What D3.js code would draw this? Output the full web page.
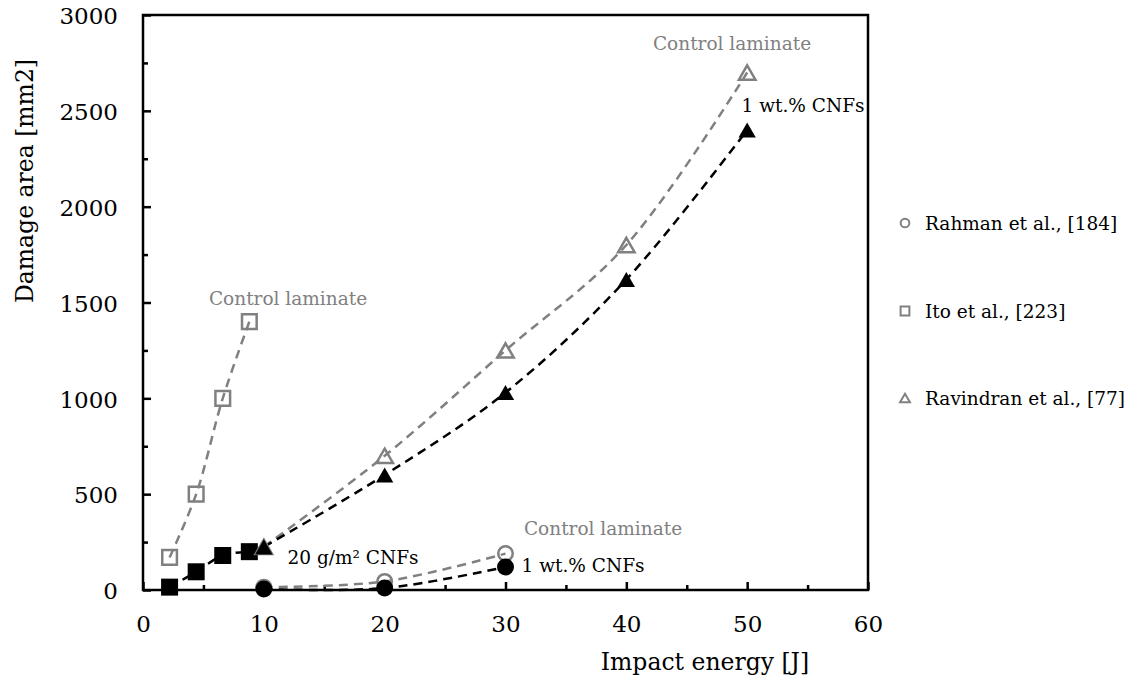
<!DOCTYPE html>
<html>
<head>
<meta charset="utf-8">
<script src="https://cdn.jsdelivr.net/npm/d3@7"></script>
<style>
  html, body { margin: 0; padding: 0; background: #fff; }
  svg text { font-family: "DejaVu Serif", Georgia, serif; }
</style>
</head>
<body>
<svg id="chart" width="1127" height="680"></svg>
<script>
// Impact energy [J] and damage area [mm2] for each study
const rahmanEnergy = [10, 20, 30];
const rahmanControl = [15, 45, 190];
const rahmanCNF = [5, 10, 120];

const itoEnergy = [2.2, 4.4, 6.6, 8.8];
const itoControl = [170, 500, 1000, 1400];
const itoCNF = [15, 95, 180, 200];

const ravindranEnergy = [10, 20, 30, 40, 50];
const ravindranControl = [225, 700, 1250, 1800, 2700];
const ravindranCNF = [225, 600, 1030, 1620, 2400];

const xTicks = [0, 10, 20, 30, 40, 50, 60];
const yTicks = [0, 500, 1000, 1500, 2000, 2500, 3000];
const legendLabels = ["Rahman et al., [184]", "Ito et al., [223]", "Ravindran et al., [77]"];

const svg = d3.select("#chart");
const plotLeft = 143, plotRight = 868, plotTop = 15, plotBottom = 590;

const x = d3.scaleLinear().domain([0, 60]).range([plotLeft, plotRight]);
const y = d3.scaleLinear().domain([0, 3000]).range([plotBottom, plotTop]);

const GREY = "#808080";
const BLACK = "#000";

// frame
svg.append("rect")
  .attr("x", plotLeft).attr("y", plotTop)
  .attr("width", plotRight - plotLeft).attr("height", plotBottom - plotTop)
  .attr("fill", "none").attr("stroke", "#000").attr("stroke-width", 2.5);

// inward ticks: major with labels, minor between
const xAxis = d3.axisBottom(x).tickValues(xTicks).tickSize(-8).tickPadding(26).tickFormat(d3.format("d"));
const xMinor = d3.axisBottom(x).tickValues(d3.range(5, 60, 10)).tickSize(-5).tickFormat("");
const yAxis = d3.axisLeft(y).tickValues(yTicks).tickSize(-8).tickPadding(25).tickFormat(d3.format("d"));
const yMinor = d3.axisLeft(y).tickValues(d3.range(250, 3000, 500)).tickSize(-5).tickFormat("");

function styleAxis(g) {
  g.select(".domain").remove();
  g.selectAll(".tick line").attr("stroke", "#000").attr("stroke-width", 2.5);
  g.selectAll(".tick text").attr("font-size", 23).attr("fill", "#000")
    .attr("font-family", "\"DejaVu Serif\", Georgia, serif");
}
svg.append("g").attr("transform", `translate(0,${plotBottom})`).call(xAxis).call(styleAxis);
svg.append("g").attr("transform", `translate(0,${plotBottom})`).call(xMinor).call(styleAxis);
svg.append("g").attr("transform", `translate(${plotLeft},0)`).call(yAxis).call(styleAxis)
  .selectAll(".tick text").attr("dy", "0.38em");
svg.append("g").attr("transform", `translate(${plotLeft},0)`).call(yMinor).call(styleAxis);

// axis titles
svg.append("text")
  .attr("x", 705).attr("y", 670)
  .attr("text-anchor", "middle").attr("font-size", 23.5)
  .text("Impact energy [J]");
svg.append("text")
  .attr("transform", "translate(33,181) rotate(-90)")
  .attr("text-anchor", "middle").attr("font-size", 23.5)
  .text("Damage area [mm2]");

const line = d3.line()
  .x(d => x(d[0])).y(d => y(d[1]))
  .curve(d3.curveCatmullRom.alpha(0.5));

function zip(a, b) { return a.map((v, i) => [v, b[i]]); }

const series = [
  { energy: rahmanEnergy, values: rahmanControl, color: GREY, shape: "circle", open: true },
  { energy: rahmanEnergy, values: rahmanCNF, color: BLACK, shape: "circle", open: false },
  { energy: itoEnergy, values: itoControl, color: GREY, shape: "square", open: true },
  { energy: itoEnergy, values: itoCNF, color: BLACK, shape: "square", open: false },
  { energy: ravindranEnergy, values: ravindranControl, color: GREY, shape: "triangle", open: true },
  { energy: ravindranEnergy, values: ravindranCNF, color: BLACK, shape: "triangle", open: false }
];

const symbolType = { circle: d3.symbolCircle, square: d3.symbolSquare, triangle: d3.symbolTriangle };
// symbol areas for filled and outlined markers
const filledSize = { circle: 227, square: 289, triangle: 130 };
const openSize = { circle: 165, square: 215, triangle: 118 };

function drawMarker(g, shape, open, color, px, py, scale) {
  const s = (scale || 1);
  const area = (open ? openSize : filledSize)[shape] * s * s;
  const sym = d3.symbol().type(symbolType[shape]).size(area);
  // center the triangle's bounding box on the point
  const dy = shape === "triangle" ? Math.sqrt(area / (Math.sqrt(3) * 3)) / 2 : 0;
  g.append("path")
    .attr("d", sym())
    .attr("transform", `translate(${px},${py + dy})`)
    .attr("fill", open ? "none" : color)
    .attr("stroke", color)
    .attr("stroke-width", open ? 2.5 * Math.max(s, 0.8) : 0);
}

const plot = svg.append("g");
series.forEach(s => {
  plot.append("path")
    .datum(zip(s.energy, s.values))
    .attr("d", line)
    .attr("fill", "none")
    .attr("stroke", s.color)
    .attr("stroke-width", 2.5)
    .attr("stroke-dasharray", "9,6");
});
series.forEach(s => {
  zip(s.energy, s.values).forEach(d => drawMarker(plot, s.shape, s.open, s.color, x(d[0]), y(d[1])));
});

// annotations
const notes = [
  { text: "Control laminate", x: 288, y: 305, color: GREY },
  { text: "Control laminate", x: 732, y: 50, color: GREY },
  { text: "1 wt.% CNFs", x: 803, y: 112, color: BLACK },
  { text: "20 g/m² CNFs", x: 353, y: 564, color: BLACK },
  { text: "Control laminate", x: 603, y: 535, color: GREY },
  { text: "1 wt.% CNFs", x: 583, y: 572, color: BLACK }
];
svg.append("g").selectAll("text").data(notes).join("text")
  .attr("x", d => d.x).attr("y", d => d.y)
  .attr("text-anchor", "middle").attr("font-size", 18.5)
  .attr("fill", d => d.color)
  .text(d => d.text);

// legend
const legendY = [223, 311, 398];
const legendShapes = ["circle", "square", "triangle"];
const legend = svg.append("g");
legendLabels.forEach((lab, i) => {
  drawMarker(legend, legendShapes[i], true, GREY, 905, legendY[i], 0.6);
  legend.append("text")
    .attr("x", 925).attr("y", legendY[i] + 7)
    .attr("font-size", 18.5).attr("fill", "#000")
    .text(lab);
});
</script>
</body>
</html>
